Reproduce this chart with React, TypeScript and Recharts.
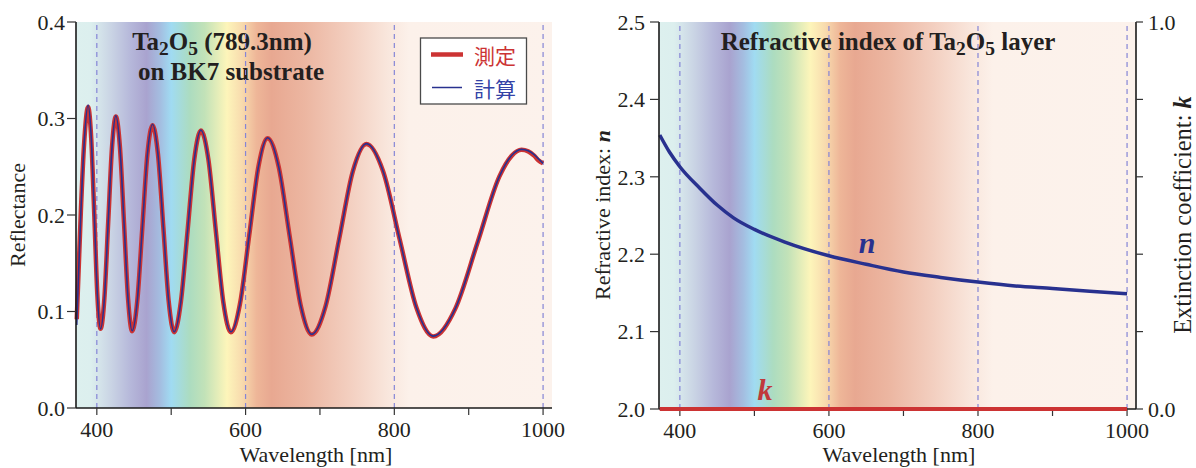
import React from 'react';
import {
  ComposedChart,
  Line,
  XAxis,
  YAxis,
  CartesianGrid,
  ReferenceLine,
} from 'recharts';

// ---------- data ----------
const reflWavelength = [
  373, 375.5, 378.5, 383, 388.3, 392.5, 396.7, 400.8, 405, 410.2, 415.3, 420.5, 425.6,
  431.1, 436.6, 442, 447.5, 454.4, 461.2, 468, 474.9, 482.2, 489.5, 496.7, 504, 513, 522,
  531, 539.9, 550, 560, 570, 580.2, 592.5, 605, 617.5, 629.6, 644.5, 659.3, 674.2, 689,
  707.4, 725.8, 744.1, 762.5, 785, 807.4, 829.9, 852.3, 882, 911.7, 941.3, 958, 971, 980,
  988, 994, 1000,
];
const reflMeasured = [
  0.092, 0.142, 0.203, 0.275, 0.312, 0.279, 0.198, 0.116, 0.082, 0.114, 0.1925, 0.271, 0.302,
  0.27, 0.1915, 0.113, 0.0795, 0.111, 0.187, 0.263, 0.293, 0.263, 0.1865, 0.11, 0.0785, 0.11,
  0.1835, 0.2575, 0.2875, 0.2575, 0.1835, 0.11, 0.0785, 0.108, 0.1795, 0.251, 0.2795, 0.25,
  0.178, 0.106, 0.0762, 0.105, 0.175, 0.245, 0.2735, 0.245, 0.174, 0.1036, 0.0742, 0.103,
  0.171, 0.24, 0.2615, 0.2675, 0.266, 0.2615, 0.2565, 0.2535,
];
const reflCalculated = [
  0.086, 0.14, 0.202, 0.275, 0.314, 0.28, 0.198, 0.116, 0.082, 0.114, 0.1925, 0.271, 0.303,
  0.27, 0.1915, 0.113, 0.08, 0.111, 0.187, 0.263, 0.294, 0.263, 0.1865, 0.11, 0.079, 0.11,
  0.1835, 0.2575, 0.288, 0.2575, 0.1835, 0.11, 0.079, 0.108, 0.1795, 0.251, 0.28, 0.25,
  0.178, 0.106, 0.0765, 0.105, 0.175, 0.245, 0.274, 0.245, 0.174, 0.1036, 0.0745, 0.103,
  0.171, 0.24, 0.262, 0.268, 0.2665, 0.2625, 0.258, 0.2535,
];

const nWavelength = [373, 386, 400, 427, 450, 472, 500, 540, 600, 650, 700, 750, 800, 850, 900, 950, 1000];
const nValues = [
  2.354, 2.332, 2.313, 2.285, 2.2635, 2.247, 2.232, 2.216, 2.198, 2.187, 2.177, 2.17, 2.164,
  2.159, 2.1557, 2.152, 2.149,
];
const kWavelength = [373, 1000];
const kValues = [0, 0];

const xTicks = [400, 500, 600, 700, 800, 900, 1000];
const reflTicks = [0, 0.1, 0.2, 0.3, 0.4];
const nTicks = [2.0, 2.1, 2.2, 2.3, 2.4, 2.5];
const kTicks = [0, 0.2, 0.4, 0.6, 0.8, 1.0];
const gridWavelengths = [400, 600, 800, 1000];
const xDomain = [372, 1012];

const spectrumStops = [372, 392, 420, 445, 467, 485, 500, 525, 545, 575, 595, 615, 635, 680, 740, 790, 820, 1012];
const spectrumColors = [
  '#ddf0ee', '#dcefee', '#c9d3e4', '#b6b8da', '#a9a3cf', '#a4bde0', '#a0dbf2', '#acdcc0',
  '#c2e2b8', '#fdf5ba', '#f8dbae', '#eeb698', '#e8a891', '#ecb6a1', '#f3cfc0', '#f9e6dc',
  '#fcf1ea', '#fcf2ec',
];

const reflData = reflWavelength.map((wl, i) => ({ wl, meas: reflMeasured[i], calc: reflCalculated[i] }));
const nData = nWavelength.map((wl, i) => ({ wl, n: nValues[i] }));
const kData = kWavelength.map((wl, i) => ({ wl, k: kValues[i] }));

// ---------- style ----------
const SERIF = '"Liberation Serif", "Times New Roman", serif';
const CJK = '"Noto Sans CJK JP", "Noto Sans", sans-serif';
const INK = '#231f20';
const RED = '#cc3333';
const BLUE = '#28318f';
const DASH = '#8585d6';
const tickStyle = { fontFamily: SERIF, fontSize: 22, fill: INK };
const axisLine = { stroke: '#1a1a1a', strokeWidth: 1.6 };
const tickLine = { stroke: '#333', strokeWidth: 1.2 };

const Spectrum = ({ id }: { id: string }) => (
  <defs>
    <linearGradient id={id} x1="0" y1="0" x2="1" y2="0">
      {spectrumStops.map((wl, i) => (
        <stop
          key={i}
          offset={(wl - xDomain[0]) / (xDomain[1] - xDomain[0])}
          stopColor={spectrumColors[i]}
        />
      ))}
    </linearGradient>
  </defs>
);

const xTickFmt = (v: number) => (v % 200 === 0 ? String(v) : '');

function ReflectanceChart() {
  return (
    <ComposedChart
      width={580}
      height={468}
      data={reflData}
      margin={{ top: 22, right: 28, bottom: 0, left: 0 }}
    >
      <Spectrum id="specL" />
      <CartesianGrid horizontal={false} vertical={false} fill="url(#specL)" fillOpacity={1} stroke="none" />
      <XAxis
        dataKey="wl"
        type="number"
        domain={xDomain}
        ticks={xTicks}
        height={60}
        tickSize={7}
        tickMargin={6}
        tickFormatter={xTickFmt}
        tick={tickStyle}
        axisLine={axisLine}
        tickLine={tickLine}
      />
      <XAxis xAxisId="top" orientation="top" dataKey="wl" type="number" domain={xDomain} height={0} tick={false} tickLine={false} axisLine={axisLine} />
      <YAxis
        type="number"
        domain={[0, 0.4]}
        ticks={reflTicks}
        width={76}
        tickSize={9}
        tickMargin={2}
        tickFormatter={(v: number) => v.toFixed(1)}
        tick={tickStyle}
        axisLine={axisLine}
        tickLine={tickLine}
      />
      <YAxis yAxisId="r" orientation="right" type="number" domain={[0, 0.4]} width={0} tick={false} tickLine={false} axisLine={axisLine} />
      {gridWavelengths.map((wl) => (
        <ReferenceLine key={wl} x={wl} stroke={DASH} strokeDasharray="5 4" strokeWidth={1.2} />
      ))}
      <Line type="monotone" dataKey="meas" stroke={RED} strokeWidth={4.5} dot={false} isAnimationActive={false} />
      <Line type="monotone" dataKey="calc" stroke={BLUE} strokeWidth={1.6} dot={false} isAnimationActive={false} />

      <text x={17} y={215} transform="rotate(-90 17 215)" textAnchor="middle" dominantBaseline="central" fontFamily={SERIF} fontSize={22} fill={INK}>
        Reflectance
      </text>
      <text x={316} y={462} textAnchor="middle" fontFamily={SERIF} fontSize={22} fill={INK}>
        Wavelength [nm]
      </text>
      <text x={222} y={50} textAnchor="middle" fontFamily={SERIF} fontSize={25} fontWeight="bold" fill={INK}>
        Ta<tspan fontSize={19.5} dy={5}>2</tspan>
        <tspan dy={-5}>O</tspan>
        <tspan fontSize={19.5} dy={5}>5</tspan>
        <tspan dy={-5}> (789.3nm)</tspan>
      </text>
      <text x={231} y={80} textAnchor="middle" fontFamily={SERIF} fontSize={25} fontWeight="bold" fill={INK}>
        on BK7 substrate
      </text>

      <g>
        <rect x={420.5} y={38} width={106} height={66} fill="#ffffff" stroke="#4a4a4a" strokeWidth={1.3} />
        <line x1={431} x2={463} y1={54.5} y2={54.5} stroke={RED} strokeWidth={4.5} />
        <text x={474} y={55} dominantBaseline="central" fontFamily={CJK} fontSize={21} fill={RED}>
          測定
        </text>
        <line x1={432} x2={462} y1={87.5} y2={87.5} stroke={BLUE} strokeWidth={1.5} />
        <text x={474} y={88} dominantBaseline="central" fontFamily={CJK} fontSize={21} fill="#3342a6">
          計算
        </text>
      </g>
    </ComposedChart>
  );
}

function IndexChart() {
  return (
    <ComposedChart width={616} height={468} margin={{ top: 22, right: 0, bottom: 0, left: 0 }}>
      <Spectrum id="specR" />
      <CartesianGrid horizontal={false} vertical={false} fill="url(#specR)" fillOpacity={1} stroke="none" />
      <XAxis
        dataKey="wl"
        type="number"
        domain={xDomain}
        ticks={xTicks}
        height={59}
        tickSize={7}
        tickMargin={6}
        tickFormatter={xTickFmt}
        tick={tickStyle}
        axisLine={axisLine}
        tickLine={tickLine}
      />
      <XAxis xAxisId="top" orientation="top" dataKey="wl" type="number" domain={xDomain} height={0} tick={false} tickLine={false} axisLine={axisLine} />
      <YAxis
        type="number"
        domain={[2.0, 2.5]}
        ticks={nTicks}
        width={79}
        tickSize={9}
        tickMargin={5}
        tickFormatter={(v: number) => v.toFixed(1)}
        tick={tickStyle}
        axisLine={axisLine}
        tickLine={tickLine}
      />
      <YAxis
        yAxisId="r"
        orientation="right"
        type="number"
        domain={[0, 1]}
        ticks={kTicks}
        width={60}
        tickSize={7}
        tickMargin={5}
        tickFormatter={(v: number) => (v === 0 || v === 1 ? v.toFixed(1) : '')}
        tick={tickStyle}
        axisLine={axisLine}
        tickLine={tickLine}
      />
      {gridWavelengths.map((wl) => (
        <ReferenceLine key={wl} x={wl} stroke={DASH} strokeDasharray="5 4" strokeWidth={1.2} />
      ))}
      <Line data={nData} type="monotone" dataKey="n" stroke={BLUE} strokeWidth={3.5} dot={false} isAnimationActive={false} />
      <Line data={kData} yAxisId="r" type="linear" dataKey="k" stroke={RED} strokeWidth={4} dot={false} isAnimationActive={false} zIndex={600} />

      <text x={22} y={215} transform="rotate(-90 22 215)" textAnchor="middle" dominantBaseline="central" fontFamily={SERIF} fontSize={22} fill={INK}>
        Refractive index: <tspan fontWeight="bold" fontStyle="italic">n</tspan>
      </text>
      <text x={602} y={215} transform="rotate(-90 602 215)" textAnchor="middle" dominantBaseline="central" fontFamily={SERIF} fontSize={24.5} fill={INK}>
        Extinction coefficient: <tspan fontWeight="bold" fontStyle="italic">k</tspan>
      </text>
      <text x={319} y={462} textAnchor="middle" fontFamily={SERIF} fontSize={22} fill={INK}>
        Wavelength [nm]
      </text>
      <text x={308} y={50} textAnchor="middle" fontFamily={SERIF} fontSize={25} fontWeight="bold" fill={INK}>
        Refractive index of Ta<tspan fontSize={19.5} dy={5}>2</tspan>
        <tspan dy={-5}>O</tspan>
        <tspan fontSize={19.5} dy={5}>5</tspan>
        <tspan dy={-5}> layer</tspan>
      </text>
      <text x={287} y={253} textAnchor="middle" fontFamily={SERIF} fontSize={30} fontWeight="bold" fontStyle="italic" fill={BLUE}>
        n
      </text>
      <text x={185} y={400} textAnchor="middle" fontFamily={SERIF} fontSize={30} fontWeight="bold" fontStyle="italic" fill="#c0393b">
        k
      </text>
    </ComposedChart>
  );
}

export default function App() {
  return (
    <div style={{ position: 'absolute', left: 0, top: 0, width: 1196, height: 468, background: '#ffffff', overflow: 'hidden' }}>
      <div style={{ position: 'absolute', left: 0, top: 0 }}>
        <ReflectanceChart />
      </div>
      <div style={{ position: 'absolute', left: 580, top: 0 }}>
        <IndexChart />
      </div>
    </div>
  );
}
